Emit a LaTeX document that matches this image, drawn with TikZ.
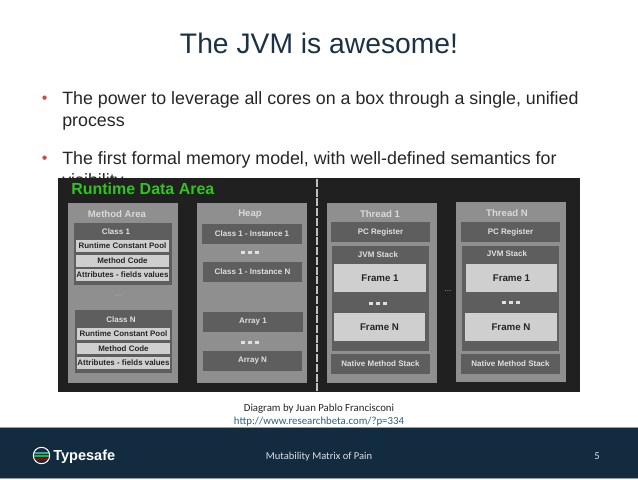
\documentclass[tikz,border=0pt]{standalone}
\usepackage{fontspec}
\setmainfont{Liberation Sans}
\newfontfamily\carl{Carlito}
\definecolor{panelbg}{HTML}{202020}
\definecolor{areabg}{HTML}{8F8F8F}
\definecolor{darkbox}{HTML}{5E5E5E}
\definecolor{lightbox}{HTML}{CFCFCF}
\definecolor{footerbg}{HTML}{122B3E}
\definecolor{titlecol}{HTML}{1B3246}
\definecolor{bulletcol}{HTML}{C8503F}
\definecolor{greenhead}{HTML}{2FC41F}
\definecolor{linkcol}{HTML}{2F5F7F}
\tikzset{
  x=0.75pt,y=-0.75pt,
  box/.style={anchor=north west,inner sep=0,outer sep=0,align=center},
  area/.style={box,fill=areabg},
  darkb/.style={box,fill=darkbox,text=white!88!black,font=\bfseries\fontsize{6}{8}\selectfont},
  lightb/.style={box,fill=lightbox,text=black!85,font=\bfseries\fontsize{5.95}{8}\selectfont},
  frameb/.style={box,fill=lightbox,text=black!85,font=\bfseries\fontsize{7.3}{9}\selectfont},
  areahead/.style={inner sep=0,text=white!85!black,font=\bfseries\fontsize{7.2}{10}\selectfont},
  boxhead/.style={inner sep=0,text=white!88!black,font=\bfseries\fontsize{6}{8}\selectfont},
  bodytext/.style={anchor=base west,inner sep=0,text=black!85,font=\fontsize{13.37}{16}\selectfont},
  bulletmark/.style={anchor=base west,inner sep=0,text=bulletcol,font=\fontsize{12}{14}\selectfont},
  dotsq/.style={fill=white!88!black},
}
\newcommand{\wh}[6]{% style, name, x0,y0,x1,y1 -> area node without text
  \node[#1,minimum width=(#5-#3)*0.75pt,minimum height=(#6-#4)*0.75pt] (#2) at (#3,#4) {};}
\newcommand{\bx}[7]{% style,name,x0,y0,x1,y1,text
  \node[#1,minimum width=(#5-#3)*0.75pt,minimum height=(#6-#4)*0.75pt] (#2) at (#3,#4) {#7};}
\newcommand{\dotsrow}[2]{% centre x, y
  \foreach \d in {-7,0,7}{\fill[dotsq] (#1+\d-1.6,#2-1.5) rectangle (#1+\d+1.6,#2+1.5);}}
\begin{document}
\begin{tikzpicture}
\useasboundingbox (0,0) rectangle (638,479);
\fill[white] (0,0) rectangle (638,479);
% title
\node[inner sep=0,anchor=base,text=titlecol,font=\fontsize{21.2}{25}\selectfont] (title) at (319,53) {The JVM is awesome!};
% bullets
\node[bulletmark] (b1) at (41.5,103.5) {•};
\node[bodytext] (t1a) at (62,104) {The power to leverage all cores on a box through a single, unified};
\node[bodytext] (t1b) at (62,126) {process};
\node[bulletmark] (b2) at (41.5,163.5) {•};
\node[bodytext] (t2a) at (62,164) {The first formal memory model, with well-defined semantics for};
\node[bodytext] (t2b) at (62,186) {visibility};
% panel
\wh{box,fill=panelbg}{panel}{58}{178}{580}{392}
\node[inner sep=0,anchor=base west,text=greenhead,font=\bfseries\fontsize{12}{15}\selectfont] (rda) at (71,194) {Runtime Data Area};
\draw[white!75!black,line width=1.1pt,dash pattern=on 6pt off 1.3pt] (317,179) -- (317,391);
% method area
\wh{area}{ma}{68}{203}{178}{383}
\node[areahead] (mah) at (117,214) {Method Area};
\wh{box,fill=darkbox}{c1}{74}{223}{172}{285}
\node[boxhead] (c1h) at (116,232) {Class 1};
\bx{lightb}{c1a}{76}{240}{169}{252}{Runtime Constant Pool}
\bx{lightb}{c1b}{76}{255}{169}{267}{Method Code}
\bx{lightb}{c1c}{76}{269}{169}{281}{Attributes - fields values}
\node[inner sep=0,text=white!70!black,font=\fontsize{6}{7}\selectfont] (mdots) at (119,296) {...};
\wh{box,fill=darkbox}{cn}{75}{310}{172}{373}
\node[boxhead] (cnh) at (121,320) {Class N};
\bx{lightb}{cna}{77}{328}{170}{340}{Runtime Constant Pool}
\bx{lightb}{cnb}{77}{343}{170}{354}{Method Code}
\bx{lightb}{cnc}{77}{357}{170}{369}{Attributes - fields values}
% heap
\wh{area}{heap}{197}{203}{307}{383}
\node[areahead] (heaph) at (250,214) {Heap};
\bx{darkb}{h1}{202}{224}{302}{244}{Class 1 - Instance 1}
\dotsrow{250}{252}
\bx{darkb}{h2}{203}{262}{302}{282}{Class 1 - Instance N}
\bx{darkb}{h3}{203}{312}{303}{332}{Array 1}
\dotsrow{250}{342}
\bx{darkb}{h4}{203}{351}{302}{371}{Array N}
% thread 1
\wh{area}{t1}{327}{203}{437}{383}
\node[areahead] (t1h) at (380,214) {Thread 1};
\bx{darkb}{t1pc}{331}{222}{430}{242}{PC Register}
\wh{box,fill=darkbox}{t1j}{332}{246}{429}{351}
\node[boxhead] (t1jh) at (378,255) {JVM Stack};
\bx{frameb}{t1f1}{334}{264}{426}{292}{Frame 1}
\dotsrow{378}{303}
\bx{frameb}{t1fn}{334}{313}{425}{341}{Frame N}
\bx{darkb}{t1n}{331}{354}{430}{374}{Native Method Stack}
% between threads
\node[inner sep=0,text=white!70!black,font=\fontsize{6}{7}\selectfont] (tdots) at (448,291) {...};
% thread N
\wh{area}{tn}{456}{202}{566}{382}
\node[areahead] (tnh) at (507,213) {Thread N};
\bx{darkb}{tnpc}{461}{222}{560}{242}{PC Register}
\wh{box,fill=darkbox}{tnj}{462}{246}{559}{351}
\node[boxhead] (tnjh) at (507,254) {JVM Stack};
\bx{frameb}{tnf1}{466}{264}{557}{292}{Frame 1}
\dotsrow{511}{302}
\bx{frameb}{tnfn}{465}{313}{557}{341}{Frame N}
\bx{darkb}{tnn}{461}{354}{560}{374}{Native Method Stack}
% credit
\node[inner sep=0,anchor=base,text=black!85,font=\carl\fontsize{8.1}{10}\selectfont] (cr1) at (319,411) {Diagram by Juan Pablo Francisconi};
\node[inner sep=0,anchor=base,text=linkcol,font=\carl\fontsize{8.1}{10}\selectfont] (cr2) at (319,424) {http://www.researchbeta.com/?p=334};
% footer
\fill[footerbg] (0,427) rectangle (638,478);
\draw[white!55!footerbg,line width=0.6pt] (0,427) -- (638,427);
\draw[white!55!footerbg,line width=0.6pt] (0,478) -- (638,478);
\node[inner sep=0,anchor=base,text=white!85!footerbg,font=\carl\fontsize{7.9}{10}\selectfont] (ft) at (319,459) {Mutability Matrix of Pain};
\node[inner sep=0,anchor=base,text=white!85!footerbg,font=\carl\fontsize{8}{10}\selectfont] (pg) at (597,459) {5};
% logo
\begin{scope}
\clip (41.5,455.5) circle (8.2);
\fill[teal!75!white] (32,451.5) rectangle (52,453.8);
\fill[green!55!teal] (32,454.8) rectangle (52,457);
\fill[red!65!black] (32,458) rectangle (52,460.4);
\end{scope}
\draw[white,line width=0.75pt] (41.5,455.5) circle (8.2);
\node[inner sep=0,anchor=base west,text=white,font=\bfseries\fontsize{10.9}{14}\selectfont] (logo) at (53,460.5) {Typesafe};
\end{tikzpicture}
\end{document}
